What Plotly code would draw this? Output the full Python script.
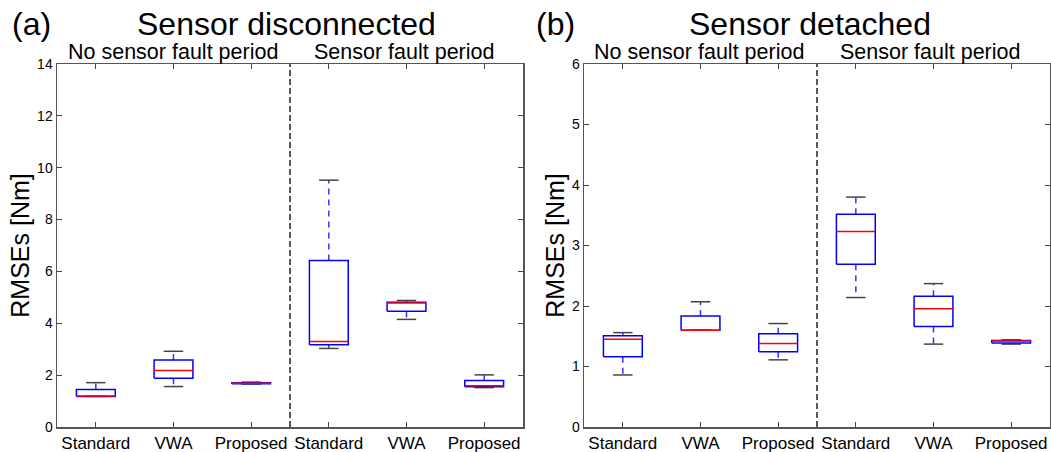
import plotly.graph_objects as go

categories = ["Standard", "VWA", "Proposed", "Standard", "VWA", "Proposed"]
positions = [1, 2, 3, 4, 5, 6]

# Panel (a): Sensor disconnected
a_lower = [1.18, 1.56, 1.66, 3.03, 4.15, 1.52]
a_q1 = [1.18, 1.88, 1.67, 3.17, 4.46, 1.55]
a_med = [1.20, 2.18, 1.69, 3.30, 4.78, 1.59]
a_q3 = [1.45, 2.58, 1.71, 6.42, 4.81, 1.79]
a_upper = [1.71, 2.92, 1.73, 9.52, 4.88, 2.01]

# Panel (b): Sensor detached
b_lower = [0.86, 1.60, 1.11, 2.14, 1.37, 1.37]
b_q1 = [1.16, 1.60, 1.245, 2.69, 1.66, 1.39]
b_med = [1.45, 1.60, 1.38, 3.23, 1.955, 1.42]
b_q3 = [1.51, 1.835, 1.54, 3.515, 2.16, 1.43]
b_upper = [1.56, 2.07, 1.71, 3.80, 2.37, 1.44]

a_ticks = [0, 2, 4, 6, 8, 10, 12, 14]
b_ticks = [0, 1, 2, 3, 4, 5, 6]

BW = 0.25   # half box width
CW = 0.125  # half cap width
FONT = "Liberation Sans, Arial, sans-serif"

fig = go.Figure()


def add_boxes(lower, q1, med, q3, upper, xa, ya):
    wx, wy, cx, cy, bx, by, mx, my = [], [], [], [], [], [], [], []
    for p, lo, a, m, b, hi in zip(positions, lower, q1, med, q3, upper):
        wx += [p, p, None, p, p, None]
        wy += [b, hi, None, a, lo, None]
        cx += [p - CW, p + CW, None, p - CW, p + CW, None]
        cy += [hi, hi, None, lo, lo, None]
        bx += [p - BW, p + BW, p + BW, p - BW, p - BW, None]
        by += [a, a, b, b, a, None]
        mx += [p - BW, p + BW, None]
        my += [m, m, None]
    common = dict(xaxis=xa, yaxis=ya, mode="lines", showlegend=False, hoverinfo="skip")
    fig.add_trace(go.Scatter(x=wx, y=wy, line=dict(color="#3333ff", width=1.5, dash="6px,5px"), **common))
    fig.add_trace(go.Scatter(x=cx, y=cy, line=dict(color="#444444", width=1.5), **common))
    fig.add_trace(go.Scatter(x=bx, y=by, line=dict(color="#0000ff", width=1.5), **common))
    fig.add_trace(go.Scatter(x=mx, y=my, line=dict(color="#ff0000", width=1.5), **common))


add_boxes(a_lower, a_q1, a_med, a_q3, a_upper, "x", "y")
add_boxes(b_lower, b_q1, b_med, b_q3, b_upper, "x2", "y2")

W, H = 1051, 452
ytop = 1 - 64 / H
ybot = 1 - 427 / H

xcommon = dict(
    range=[0.5, 6.5], tickvals=positions, ticktext=categories, automargin=False,
    ticks="inside", ticklen=5, tickcolor="#444444", showline=True, linecolor="#555555",
    linewidth=1.5, mirror="ticks", showgrid=False, zeroline=False,
    tickfont=dict(family=FONT, size=17, color="black"), fixedrange=True,
)
ycommon = dict(
    ticks="inside", ticklen=5, tickcolor="#444444", showline=True, linecolor="#555555",
    linewidth=1.5, mirror="ticks", showgrid=False, zeroline=False, automargin=False,
    tickfont=dict(family=FONT, size=14, color="black"), fixedrange=True,
    title=dict(text="RMSEs [Nm]", font=dict(family=FONT, size=25, color="black"), standoff=0),
)

fig.update_layout(
    width=W, height=H,
    margin=dict(l=0, r=0, t=0, b=0, autoexpand=False),
    paper_bgcolor="white", plot_bgcolor="white",
    xaxis=dict(domain=[57 / W, 523 / W], anchor="y", **xcommon),
    yaxis=dict(domain=[ybot, ytop], anchor="x", range=[0, 14], tickvals=a_ticks, **ycommon),
    xaxis2=dict(domain=[584 / W, 1050 / W], anchor="y2", **xcommon),
    yaxis2=dict(domain=[ybot, ytop], anchor="x2", range=[0, 6], tickvals=b_ticks, **ycommon),
)

for xr, yr in [("x", "y domain"), ("x2", "y2 domain")]:
    fig.add_shape(type="line", xref=xr, yref=yr, x0=3.5, x1=3.5, y0=0, y1=1,
                  line=dict(color="#222222", width=1.5, dash="6px,3px"))

annots = [
    ("(a)", 31, 24, 32),
    ("Sensor disconnected", 286, 24, 32),
    ("(b)", 555, 24, 32),
    ("Sensor detached", 810, 24, 32),
    ("No sensor fault period", 173, 52, 21.5),
    ("Sensor fault period", 404, 52, 21.5),
    ("No sensor fault period", 699, 52, 21.5),
    ("Sensor fault period", 930, 52, 21.5),
]
for txt, px, py, sz in annots:
    fig.add_annotation(text=txt, x=px / W, y=1 - py / H, xref="paper", yref="paper",
                       xanchor="center", yanchor="middle", showarrow=False,
                       font=dict(family=FONT, size=sz, color="black"))

fig.write_html(
    "out.html",
    config={"displayModeBar": False, "staticPlot": True},
    post_script="document.body.style.margin='0';document.body.style.padding='0';"
                "document.documentElement.style.overflow='hidden';",
)
